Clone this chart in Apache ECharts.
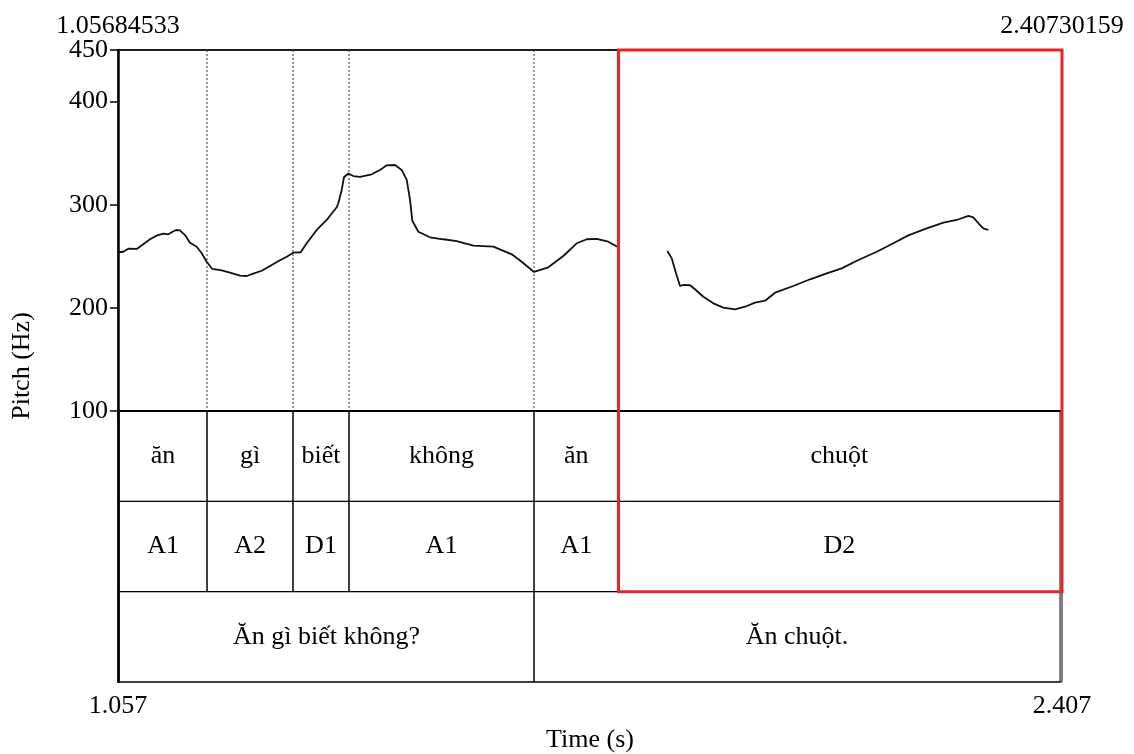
<!DOCTYPE html>
<html>
<head>
<meta charset="utf-8">
<script src="https://cdn.jsdelivr.net/npm/echarts@6/dist/echarts.min.js"></script>
<style>html,body{margin:0;padding:0;background:#fff}#c{width:1134px;height:754px}</style>
</head>
<body>
<div id="c"></div>
<script>
// ---- data ----
const tMin = 1.05684533, tMax = 2.40730159;
const pitchTicks = [100, 200, 300, 400, 450];
// voiced stretch 1: [time (s), pitch (Hz)]
const pitchA = [
  [1.0573,253.9],[1.0644,254.4],[1.0716,257.4],[1.0836,257.1],[1.0930,261.6],[1.1026,266.5],
  [1.1122,270.0],[1.1216,271.9],[1.1288,271.3],[1.1337,273.3],[1.1398,275.5],[1.1455,275.2],
  [1.1527,270.6],[1.1598,263.2],[1.1694,259.3],[1.1766,252.9],[1.1837,244.7],[1.1918,237.7],
  [1.2052,236.4],[1.2171,234.1],[1.2314,231.2],[1.2410,230.9],[1.2504,233.1],[1.2624,236.0],
  [1.2743,240.6],[1.2886,246.1],[1.2982,249.6],[1.3076,253.5],[1.3182,253.9],[1.3268,262.6],
  [1.3411,275.5],[1.3554,285.2],[1.3697,297.5],[1.3720,301.4],[1.3769,314.3],[1.3801,326.6],
  [1.3863,330.3],[1.3935,327.8],[1.4030,326.9],[1.4198,329.5],[1.4317,333.7],[1.4412,338.2],
  [1.4531,338.5],[1.4627,333.7],[1.4699,324.0],[1.4746,304.6],[1.4779,284.5],[1.4865,273.8],
  [1.5032,268.4],[1.5222,266.5],[1.5414,264.8],[1.5652,260.3],[1.5938,259.3],[1.6201,251.9],
  [1.6344,244.7],[1.6520,234.8],[1.6724,239.3],[1.6939,250.3],[1.7131,262.6],[1.7274,266.5],
  [1.7417,266.8],[1.7583,264.1],[1.7711,259.3]
];
// voiced stretch 2
const pitchB = [
  [1.8427,255.1],[1.8490,248.0],[1.8551,233.5],[1.8609,221.2],[1.8656,222.2],[1.8752,221.9],
  [1.8823,218.0],[1.8942,210.8],[1.9085,204.4],[1.9228,200.2],[1.9396,198.6],[1.9539,201.1],
  [1.9682,205.0],[1.9825,206.9],[1.9968,214.7],[2.0230,221.2],[2.0469,227.7],[2.0707,233.5],
  [2.0922,238.3],[2.1137,245.7],[2.1423,254.4],[2.1660,262.6],[2.1875,270.3],[2.2138,277.1],
  [2.2376,282.6],[2.2567,285.2],[2.2733,289.1],[2.2805,287.8],[2.2877,282.0],[2.2948,277.1],
  [2.3020,275.5]
];
const wordBounds = [1.0585, 1.1842, 1.3072, 1.3873, 1.6520, 1.7729, 2.4045];
const words = ["ăn", "gì", "biết", "không", "ăn", "chuột"];
const tones = ["A1", "A2", "D1", "A1", "A1", "D2"];
const phraseBounds = [1.0585, 1.6520, 2.4045];
const phrases = ["Ăn gì biết không?", "Ăn chuột."];
const highlightStart = 1.7729; // boxed word "chuột"

// ---- build ----
const tierData = [];
words.forEach((w, i) => tierData.push([wordBounds[i], wordBounds[i+1], 0, w]));
tones.forEach((w, i) => tierData.push([wordBounds[i], wordBounds[i+1], 1, w]));
phrases.forEach((w, i) => tierData.push([phraseBounds[i], phraseBounds[i+1], 2, w]));
const guideData = wordBounds.slice(0, 6).map(v => [v]);

const FONT = '"Liberation Serif", "DejaVu Serif", serif';
const FS = 26;

const chart = echarts.init(document.getElementById('c'));
chart.setOption({
  animation: false,
  backgroundColor: '#fff',
  textStyle: { fontFamily: FONT, color: '#000' },
  grid: [
    { left: 118, right: 72, top: 50, height: 361, show: true, borderColor: '#000', borderWidth: 1, backgroundColor: 'transparent' },
    { left: 118, right: 72, top: 411, height: 275, show: true, borderColor: '#000', borderWidth: 1, backgroundColor: 'transparent' }
  ],
  xAxis: [
    { gridIndex: 0, type: 'value', min: tMin, max: tMax, position: 'top',
      axisLine: { show: true, lineStyle: { color: '#000', width: 1.5 } },
      axisTick: { show: false }, splitLine: { show: false },
      axisLabel: { customValues: [tMin, tMax], formatter: v => v.toFixed(8), fontFamily: FONT, fontSize: FS, color: '#000', margin: 11 } },
    { gridIndex: 1, type: 'value', min: tMin, max: tMax, position: 'bottom',
      axisLine: { show: true, lineStyle: { color: '#000', width: 2 } },
      axisTick: { show: true, customValues: [tMin, tMax], length: 8, lineStyle: { color: '#000', width: 1.5 } },
      splitLine: { show: false },
      axisLabel: { customValues: [tMin, tMax], formatter: v => v.toFixed(3), fontFamily: FONT, fontSize: FS, color: '#000', margin: 11 },
      name: 'Time (s)', nameLocation: 'middle', nameGap: 45,
      nameTextStyle: { fontFamily: FONT, fontSize: FS, color: '#000' } }
  ],
  yAxis: [
    { gridIndex: 0, type: 'value', min: 100, max: 450, interval: 100,
      axisLine: { show: true, lineStyle: { color: '#000', width: 2.5 } },
      axisTick: { show: true, length: 8, lineStyle: { color: '#000', width: 1.5 } },
      splitLine: { show: false },
      axisLabel: { customValues: pitchTicks, fontFamily: FONT, fontSize: FS, color: '#000', margin: 10 } },
    { gridIndex: 1, type: 'value', min: 0, max: 3, inverse: true,
      axisLine: { show: true, lineStyle: { color: '#000', width: 2.5 } },
      axisTick: { show: false }, axisLabel: { show: false }, splitLine: { show: false } }
  ],
  series: [
    { type: 'custom', xAxisIndex: 0, yAxisIndex: 0, data: guideData, silent: true, z: 1,
      renderItem: (params, api) => {
        const a = api.coord([api.value(0), 450]);
        const b = api.coord([api.value(0), 100]);
        return { type: 'line', shape: { x1: a[0], y1: a[1], x2: b[0], y2: b[1] },
          style: { stroke: '#333', lineWidth: 1, lineDash: [2, 2] } };
      } },
    { type: 'line', xAxisIndex: 0, yAxisIndex: 0, data: pitchA, showSymbol: false, smooth: false, z: 3,
      lineStyle: { color: '#111', width: 1.8 } },
    { type: 'line', xAxisIndex: 0, yAxisIndex: 0, data: pitchB, showSymbol: false, smooth: false, z: 3,
      lineStyle: { color: '#111', width: 1.8 } },
    { type: 'custom', xAxisIndex: 1, yAxisIndex: 1, data: tierData,
      renderItem: (params, api) => {
        const p0 = api.coord([api.value(0), api.value(2)]);
        const p1 = api.coord([api.value(1), api.value(2) + 1]);
        return { type: 'group', children: [
          { type: 'rect', shape: { x: p0[0], y: p0[1], width: p1[0] - p0[0], height: p1[1] - p0[1] },
            style: { fill: 'none', stroke: '#000', lineWidth: 1 } },
          { type: 'text', x: (p0[0] + p1[0]) / 2, y: (p0[1] + p1[1]) / 2,
            style: { text: api.value(3), font: FS + 'px ' + FONT, fill: '#000', align: 'center', verticalAlign: 'middle' } }
        ] };
      } }
  ]
});

const x0 = chart.convertToPixel({ xAxisIndex: 0 }, highlightStart);
const x1 = chart.convertToPixel({ xAxisIndex: 0 }, tMax);
const y0 = chart.convertToPixel({ yAxisIndex: 0 }, 450);
const y1 = chart.convertToPixel({ yAxisIndex: 1 }, 2);
chart.setOption({
  graphic: [
    { type: 'rect', z: 100, shape: { x: x0, y: y0, width: x1 - x0, height: y1 - y0 },
      style: { fill: 'none', stroke: '#e4252b', lineWidth: 3 } },
    { type: 'text', x: 22, y: (y0 + chart.convertToPixel({ yAxisIndex: 1 }, 3)) / 2, rotation: Math.PI / 2,
      style: { text: 'Pitch (Hz)', font: FS + 'px ' + FONT, fill: '#000', align: 'center', verticalAlign: 'middle' } }
  ]
});
</script>
</body>
</html>
